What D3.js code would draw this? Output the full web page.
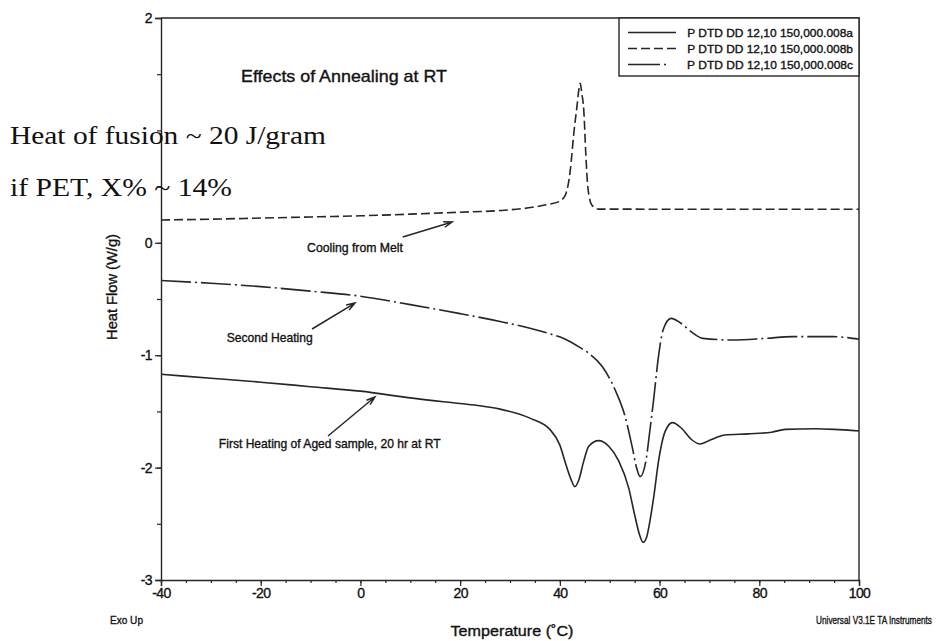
<!DOCTYPE html>
<html>
<head>
<meta charset="utf-8">
<script src="https://cdn.jsdelivr.net/npm/d3@7"></script>
<style>
  html, body { margin: 0; padding: 0; background: #fff; }
  svg { display: block; }
  text { fill: #111; }
  .heavy { stroke: #111; stroke-width: 0.35px; }
</style>
</head>
<body>
<svg id="chart" width="936" height="641"></svg>
<script>
// DSC heat-flow curves (W/g) against temperature (°C)

// a: first heating of the aged sample (solid)
const firstHeatT = [-40, -30, -20, -10, 0, 10, 20, 24, 28, 34, 38, 40, 41.2, 42.2, 43, 43.8, 44.8, 45.8,
  47.8, 49.8, 51.8, 53.8, 55.1, 56, 56.7, 57.4, 57.8, 58.8, 59.8, 61.1, 62.6, 64.4, 66.4, 68.1,
  70.4, 73.1, 77.8, 82.5, 85.2, 91.2, 95, 100];
const firstHeatW = [-1.17, -1.205, -1.24, -1.28, -1.32, -1.38, -1.43, -1.45, -1.48, -1.56, -1.66, -1.8, -1.97, -2.1, -2.17, -2.11, -1.94, -1.81,
  -1.76, -1.81, -1.94, -2.18, -2.44, -2.6, -2.665, -2.62, -2.54, -2.27, -1.94, -1.68, -1.6, -1.65, -1.75, -1.79,
  -1.75, -1.71, -1.7, -1.685, -1.66, -1.655, -1.66, -1.675];

// b: cooling from the melt (dashed)
const coolingT = [-40, -30, -20, -10, 0, 10, 20, 28, 34.5, 38, 39.8, 41.1, 42.1, 42.8, 43.5, 43.8, 44.1, 44.4, 44.8,
  45.2, 45.6, 46.4, 47.8, 60, 80, 100];
const coolingW = [0.203, 0.21, 0.22, 0.23, 0.24, 0.255, 0.272, 0.287, 0.316, 0.345, 0.366, 0.425, 0.648, 0.974, 1.241, 1.36, 1.419, 1.33, 1.18,
  0.796, 0.499, 0.336, 0.3, 0.299, 0.299, 0.298];

// c: second heating (dash-dot)
const secondHeatT = [-40, -30, -20, -10, 0, 10, 20, 28, 34, 38, 41, 44, 45.8, 48.5, 51.1, 53.1, 54.5, 55.5, 56.1,
  57.3, 58, 58.8, 59.7, 60.7, 62.3, 64.3, 66.3, 68.7, 74.7, 81.3, 86.7, 94.7, 100];
const secondHeatW = [-0.335, -0.36, -0.39, -0.43, -0.475, -0.55, -0.63, -0.7, -0.76, -0.81, -0.855, -0.93, -0.983, -1.1, -1.31, -1.547, -1.814, -2.02, -2.08,
  -1.93, -1.69, -1.4, -1.04, -0.776, -0.672, -0.716, -0.79, -0.85, -0.865, -0.85, -0.835, -0.835, -0.858];

const xTickValues = [-40, -20, 0, 20, 40, 60, 80, 100];
const xMinorStep = 5;
const yTickValues = [-3, -2, -1, 0, 2];
const yMinorStep = 0.5;

const legendLabels = [
  "P DTD DD 12,10 150,000.008a",
  "P DTD DD 12,10 150,000.008b",
  "P DTD DD 12,10 150,000.008c"
];

// arrow annotations: label anchor (T, W), arrow tail (T, W), arrow head (T, W)
const noteLabels = ["Cooling from Melt", "Second Heating", "First Heating of Aged sample, 20 hr at RT"];
const noteTextPos = [[-10.7, -0.08], [-26.8, -0.88], [-28.4, -1.83]];
const noteTails = [[8.5, 0.052], [-9.7, -0.767], [-6.5, -1.719]];
const noteHeads = [[18.4, 0.185], [-1.1, -0.536], [2.9, -1.372]];
const noteWidths = [96, 86, 222];

const titleText = "Effects of Annealing at RT";
const slideNotes = ["Heat of fusion ~ 20 J/gram", "if PET, X% ~ 14%"];

// ---- layout
const plot = { left: 161, right: 859, top: 18, bottom: 580 };
const ink = "#262626";
const sans = "'Liberation Sans', Arial, Helvetica, sans-serif";
const serif = "'Liberation Serif', 'Times New Roman', serif";

const svg = d3.select("#chart");

const x = d3.scaleLinear().domain([-40, 100]).range([plot.left, plot.right]);
const y = d3.scaleLinear().domain([-3, 2]).range([plot.bottom, plot.top]);

// Place a text at (px, py) and squeeze it horizontally to the given width.
function squeezed(parent, str, px, py, width, opts) {
  const o = Object.assign({ size: 12, family: sans, anchor: "start", rotate: 0, heavy: true }, opts || {});
  const t = parent.append("text")
    .attr("font-family", o.family).attr("font-size", o.size)
    .attr("text-anchor", o.anchor)
    .attr("class", o.heavy ? "heavy" : null)
    .text(str);
  const natural = t.node().getComputedTextLength();
  const k = natural > 0 ? width / natural : 1;
  t.attr("transform", `translate(${px},${py}) rotate(${o.rotate}) scale(${k},1)`);
  return t;
}
const plain = d => String(d);

// ---- axes
const axes = svg.append("g");
const xMinor = d3.range(-40, 100 + 0.01, xMinorStep);
const yMinor = d3.range(-3, 2 + 0.01, yMinorStep);

axes.append("g").attr("transform", `translate(0,${plot.bottom})`)
  .call(d3.axisBottom(x).tickValues(xTickValues).tickSize(6).tickPadding(2).tickFormat(plain));
axes.append("g").attr("transform", `translate(0,${plot.bottom})`)
  .call(d3.axisBottom(x).tickValues(xMinor).tickSize(3).tickFormat(() => ""))
  .select(".domain").remove();
axes.append("g").attr("transform", `translate(${plot.left},0)`)
  .call(d3.axisLeft(y).tickValues(yTickValues).tickSize(6).tickPadding(3).tickFormat(plain));
axes.append("g").attr("transform", `translate(${plot.left},0)`)
  .call(d3.axisLeft(y).tickValues(yMinor).tickSize(4).tickFormat(() => ""))
  .select(".domain").remove();

axes.selectAll(".domain").attr("stroke", ink).attr("stroke-width", 1.4);
axes.selectAll(".tick line").attr("stroke", ink).attr("stroke-width", 1.2);
axes.selectAll(".tick text").attr("font-family", sans).attr("font-size", 14)
  .attr("fill", "#111").attr("class", "heavy").style("letter-spacing", "-0.6px");

// top and right border of the plot box
axes.append("path")
  .attr("d", `M${plot.left},${plot.top}H${plot.right}V${plot.bottom}`)
  .attr("fill", "none").attr("stroke", ink).attr("stroke-width", 1.4);

// ---- curves
const line = d3.line().x(d => x(d[0])).y(d => y(d[1])).curve(d3.curveMonotoneX);
const series = [
  { t: firstHeatT, w: firstHeatW, dash: null },
  { t: coolingT, w: coolingW, dash: "9,4" },
  { t: secondHeatT, w: secondHeatW, dash: "30,4,2,4" }
];
svg.append("g").selectAll("path").data(series).join("path")
  .attr("d", s => line(s.t.map((t, i) => [t, s.w[i]])))
  .attr("fill", "none").attr("stroke", ink).attr("stroke-width", 1.6)
  .attr("stroke-dasharray", s => s.dash);

// ---- slide notes
const notesG = svg.append("g");
squeezed(notesG, slideNotes[0], 10, 144, 316, { size: 25, family: serif, heavy: false });
squeezed(notesG, slideNotes[1], 10, 196, 222, { size: 25, family: serif, heavy: false });

// ---- title
squeezed(svg, titleText, 241, 82, 206, { size: 16 });

// ---- legend
const lg = svg.append("g");
lg.append("rect").attr("x", 619).attr("y", plot.top).attr("width", plot.right - 619).attr("height", 58)
  .attr("fill", "#fff").attr("stroke", ink).attr("stroke-width", 1.4);
const legendY = [32.5, 48.5, 64.5];
const legendDash = [null, "9,4", "32,4,2,4"];
const legendEnd = [676, 676, 668];
legendLabels.forEach((lab, i) => {
  lg.append("line").attr("x1", 628).attr("x2", legendEnd[i])
    .attr("y1", legendY[i]).attr("y2", legendY[i])
    .attr("stroke", ink).attr("stroke-width", 1.5).attr("stroke-dasharray", legendDash[i]);
  squeezed(lg, lab, 853, legendY[i] + 4, 166, { size: 11.5, anchor: "end" });
});

// ---- arrow annotations
const an = svg.append("g");
noteLabels.forEach((lab, i) => {
  squeezed(an, lab, x(noteTextPos[i][0]), y(noteTextPos[i][1]), noteWidths[i], { size: 12.5 });
  const x0 = x(noteTails[i][0]), y0 = y(noteTails[i][1]);
  const x1 = x(noteHeads[i][0]), y1 = y(noteHeads[i][1]);
  const ang = Math.atan2(y1 - y0, x1 - x0);
  const len = 9, spread = 0.33;
  const hx1 = x1 - len * Math.cos(ang - spread), hy1 = y1 - len * Math.sin(ang - spread);
  const hx2 = x1 - len * Math.cos(ang + spread), hy2 = y1 - len * Math.sin(ang + spread);
  an.append("path")
    .attr("d", `M${x0},${y0}L${x1},${y1}M${hx1},${hy1}L${x1},${y1}L${hx2},${hy2}`)
    .attr("fill", "none").attr("stroke", ink).attr("stroke-width", 1.5);
});

// ---- axis titles and footer
squeezed(svg, "Heat Flow (W/g)", 117, 287, 106, { size: 14, anchor: "middle", rotate: -90 });
squeezed(svg, "Temperature  (˚C)", 512, 636, 123, { size: 15, anchor: "middle" });
squeezed(svg, "Exo Up", 110, 624, 33, { size: 11.5 });
squeezed(svg, "Universal V3.1E TA Instruments", 932, 624, 116, { size: 11.5, anchor: "end" });
</script>
</body>
</html>
